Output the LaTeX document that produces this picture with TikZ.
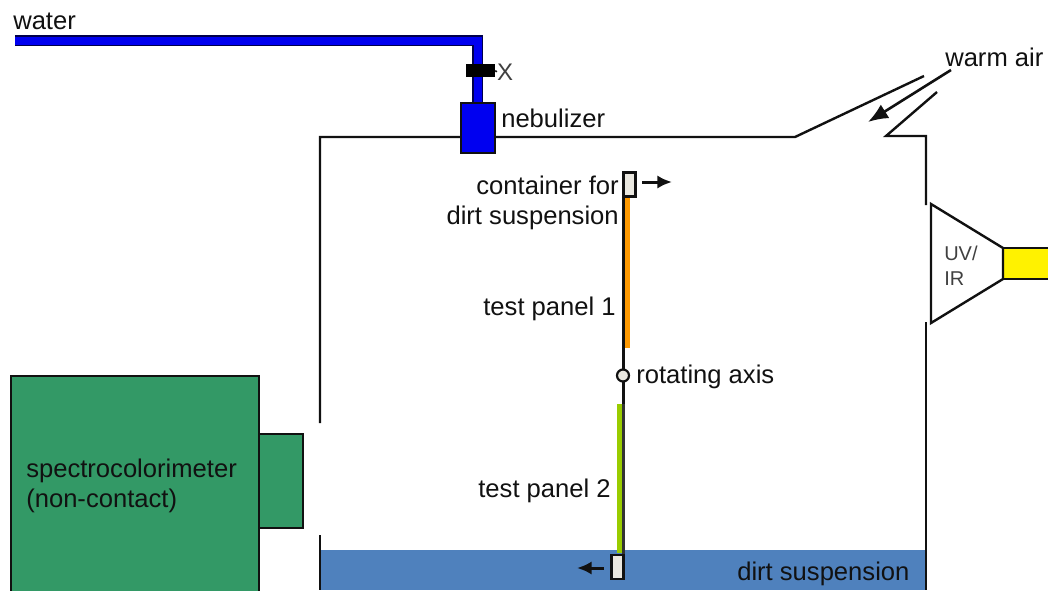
\documentclass[tikz,border=0pt]{standalone}
\usepackage{fontspec}
\setmainfont{Liberation Sans}
\usetikzlibrary{arrows.meta}
\definecolor{pipeblue}{HTML}{0000F0}
\definecolor{seag}{HTML}{339966}
\definecolor{suspblue}{HTML}{4F81BD}
\definecolor{contfill}{HTML}{EAE8E0}
\definecolor{orangep}{HTML}{FF9900}
\definecolor{greenp}{HTML}{99CC00}
\definecolor{dk}{HTML}{111111}
\tikzset{
  wall/.style={draw=dk,line width=2.4pt*0.75},
  lbl/.style={font=\fontsize{19.2}{22}\selectfont,text=dk,inner sep=0pt},
  thinlbl/.style={font=\fontsize{15}{18}\selectfont,text=black!75,inner sep=0pt},
  box/.style={draw=dk,line width=2.4pt*0.75},
  movearrow/.style={draw=dk,line width=3pt*0.75,-{Latex[length=11pt,width=10pt]}},
}
\begin{document}
\begin{tikzpicture}[x=0.75pt,y=-0.75pt]
\useasboundingbox (0,0) rectangle (1048,590);
% dirt suspension bath
\fill[suspblue] (320,550) rectangle (926,590);
% chamber walls
\coordinate (tl) at (320,137);
\coordinate (wl1) at (320,423);
\coordinate (wl2) at (320,535);
\coordinate (wl3) at (320,590);
\coordinate (ventL) at (795,137);
\coordinate (ventLt) at (924,76);
\coordinate (ventRt) at (937,92);
\coordinate (ventR) at (886,136);
\coordinate (tr) at (926,136);
\coordinate (wr1) at (926,205);
\coordinate (wr2) at (926,322);
\coordinate (wr3) at (926,590);
\draw[wall] (wl1) -- (tl) -- (ventL) -- (ventLt);
\draw[wall] (ventRt) -- (ventR) -- (tr) -- (wr1);
\draw[wall] (wr2) -- (wr3);
\draw[wall] (wl2) -- (wl3);
% water pipe
\coordinate (p0) at (15,40.5);
\coordinate (p1) at (477.5,40.5);
\coordinate (p2) at (477.5,103);
\draw[draw=black!70!blue,line width=10.5pt*0.75,line join=miter] (p0) -- (p1) -- (p2);
\draw[draw=pipeblue,line width=8pt*0.75,line join=miter] (p0) -- (p1) -- (p2);
% valve
\node[draw=none,fill=black,minimum width=29*0.75pt,minimum height=13*0.75pt,inner sep=0pt] (valve) at (480.5,70.5) {};
\node[thinlbl,font=\fontsize{18}{20}\selectfont] (xlab) at (505,72) {X};
\draw[dk,line width=1.2pt] (valve.east) -- (xlab.west);
% nebulizer
\node[box,fill=pipeblue,minimum width=34*0.75pt,minimum height=50*0.75pt,inner sep=0pt] (neb) at (478,128) {};
% axis and panels
\fill[orangep] (625,197) rectangle (630,348);
\fill[greenp] (617,404) rectangle (622,553);
\coordinate (axT) at (623.5,197);
\coordinate (axB) at (623.5,555);
\draw[dk,line width=2.2pt*0.75] (623.5,197) -- (623.5,404);
\draw[black!80,line width=3.2pt*0.75] (623.5,404) -- (623.5,555);
\node[draw=dk,fill=contfill,circle,line width=2.2pt*0.75,minimum size=12*0.75pt,inner sep=0pt] (axis) at (623,375.5) {};
\node[box,fill=contfill,minimum width=12*0.75pt,minimum height=24*0.75pt,inner sep=0pt] (c1) at (629.5,184.5) {};
\node[box,fill=contfill,minimum width=12*0.75pt,minimum height=24*0.75pt,inner sep=0pt] (c2) at (617.5,567) {};
\coordinate (a1e) at (672,182);
\coordinate (a1s) at (642,182);
\coordinate (a2s) at (604,568);
\coordinate (a2e) at (577,568);
\draw[movearrow] (a1s) -- (a1e);
\draw[movearrow] (a2s) -- (a2e);
% warm air arrow
\coordinate (w1) at (951,70);
\coordinate (w2) at (868,122);
\draw[dk,line width=2.6pt*0.75,-{Latex[length=15pt,width=12pt]}] (w1) -- (w2);
% lamp
\fill[yellow] (1003,248) rectangle (1048,279);
\draw[box] (1048,248) -- (1003,248) (1003,279) -- (1048,279);
\draw[box,line join=miter] (931,204) -- (1003,248) -- (1003,279) -- (931,323) -- cycle;
% spectrocolorimeter
\node[draw=dk,fill=seag,line width=2pt*0.75,minimum width=248*0.75pt,minimum height=216*0.75pt,inner sep=0pt] (spec) at (135,484) {};
\node[draw=dk,fill=seag,line width=2.4pt*0.75,minimum width=44*0.75pt,minimum height=94*0.75pt,inner sep=0pt] (port) at (281,481) {};
% labels
\node[lbl,anchor=base west] (lwater) at (13,29) {water};
\node[lbl,anchor=base west] (lneb) at (501,127) {nebulizer};
\node[lbl,anchor=base west] (lwarm) at (945,66) {warm air};
\node[lbl,anchor=base east] (lc1) at (619,194) {container for};
\node[lbl,anchor=base east] (lc2) at (619,224) {dirt suspension};
\node[lbl,anchor=base east] (lp1) at (616,315) {test panel 1};
\node[lbl,anchor=base west] (lrot) at (636,383) {rotating axis};
\node[lbl,anchor=base east] (lp2) at (611,497) {test panel 2};
\node[lbl,anchor=base west] (ld) at (737,580) {dirt suspension};
\node[lbl,anchor=base west] (ls1) at (26,477) {spectrocolorimeter};
\node[lbl,anchor=base west] (ls2) at (26,507) {(non-contact)};
\node[thinlbl,anchor=base west] (luv) at (944,260) {UV/};
\node[thinlbl,anchor=base west] (lir) at (944,285) {IR};
\end{tikzpicture}
\end{document}
